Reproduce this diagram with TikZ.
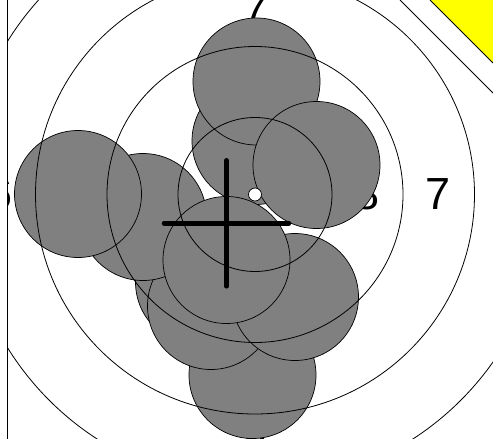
\documentclass[tikz,border=0pt]{standalone}
\usepackage{fontspec}
\setmainfont{Liberation Sans}
\definecolor{holegray}{RGB}{128,128,128}
\definecolor{tagyellow}{RGB}{255,255,0}

\begin{document}
\begin{tikzpicture}[
  x=1pt, y=-1pt,
  hole/.style={fill=holegray, draw=black, line width=0.7pt},
  ring/.style={draw=black, line width=0.8pt},
  cross/.style={line width=4.5pt, line cap=round},
  ringnum/.style={font=\fontsize{45}{45}\selectfont, inner sep=0pt}
]
\useasboundingbox (0,0) rectangle (493,439);
\fill[white] (0,0) rectangle (493,439);

%% ── CORNER TAG ──
\fill[tagyellow] (430,0) -- (493,63) -- (493,0) -- cycle;
\draw[line width=0.8pt] (430,0) -- (493,63);
\draw[line width=0.8pt] (400,0) -- (493,93);

%% ── TARGET CARD ──
\coordinate (ctr) at (255,194.5);
\begin{scope}
  \clip (7.3,-5) -- (395,-5) -- (498,98) -- (498,460) -- (7.3,460) -- cycle;

  %% ring numbers
  \foreach \num/\rad in {8/112.5, 7/183.5, 6/255}{
    \path (ctr) ++(\rad,0)  node[ringnum] (num\num e) {\num};
    \path (ctr) ++(-\rad,0) node[ringnum] (num\num w) {\num};
    \path (ctr) ++(0,-\rad) node[ringnum] (num\num n) {\num};
    \path (ctr) ++(0,\rad)  node[ringnum] (num\num s) {\num};
  }

  %% shot holes
  \foreach \sx/\sy in {252.5/375, 199/282, 211/306, 295/297, 143/217,
                       78/194, 255.5/141, 256.5/81.5, 316.5/165, 226.5/260}
    \draw[hole] (\sx,\sy) circle[radius=63.5];

  %% rings
  \foreach \rad in {77,148,219.5,291}
    \draw[ring] (ctr) circle[radius=\rad];
  \draw[fill=white, line width=0.7pt] (ctr) circle[radius=6.5];
\end{scope}
\draw[line width=1.6pt] (7.3,0) -- (7.3,439);

%% ── AIM CROSS ──
\coordinate (aim) at (226.5,223.3);
\draw[cross] (aim) ++(-62.5,0) -- ++(125,0);
\draw[cross] (aim) ++(0,-63) -- ++(0,126);

\end{tikzpicture}
\end{document}
